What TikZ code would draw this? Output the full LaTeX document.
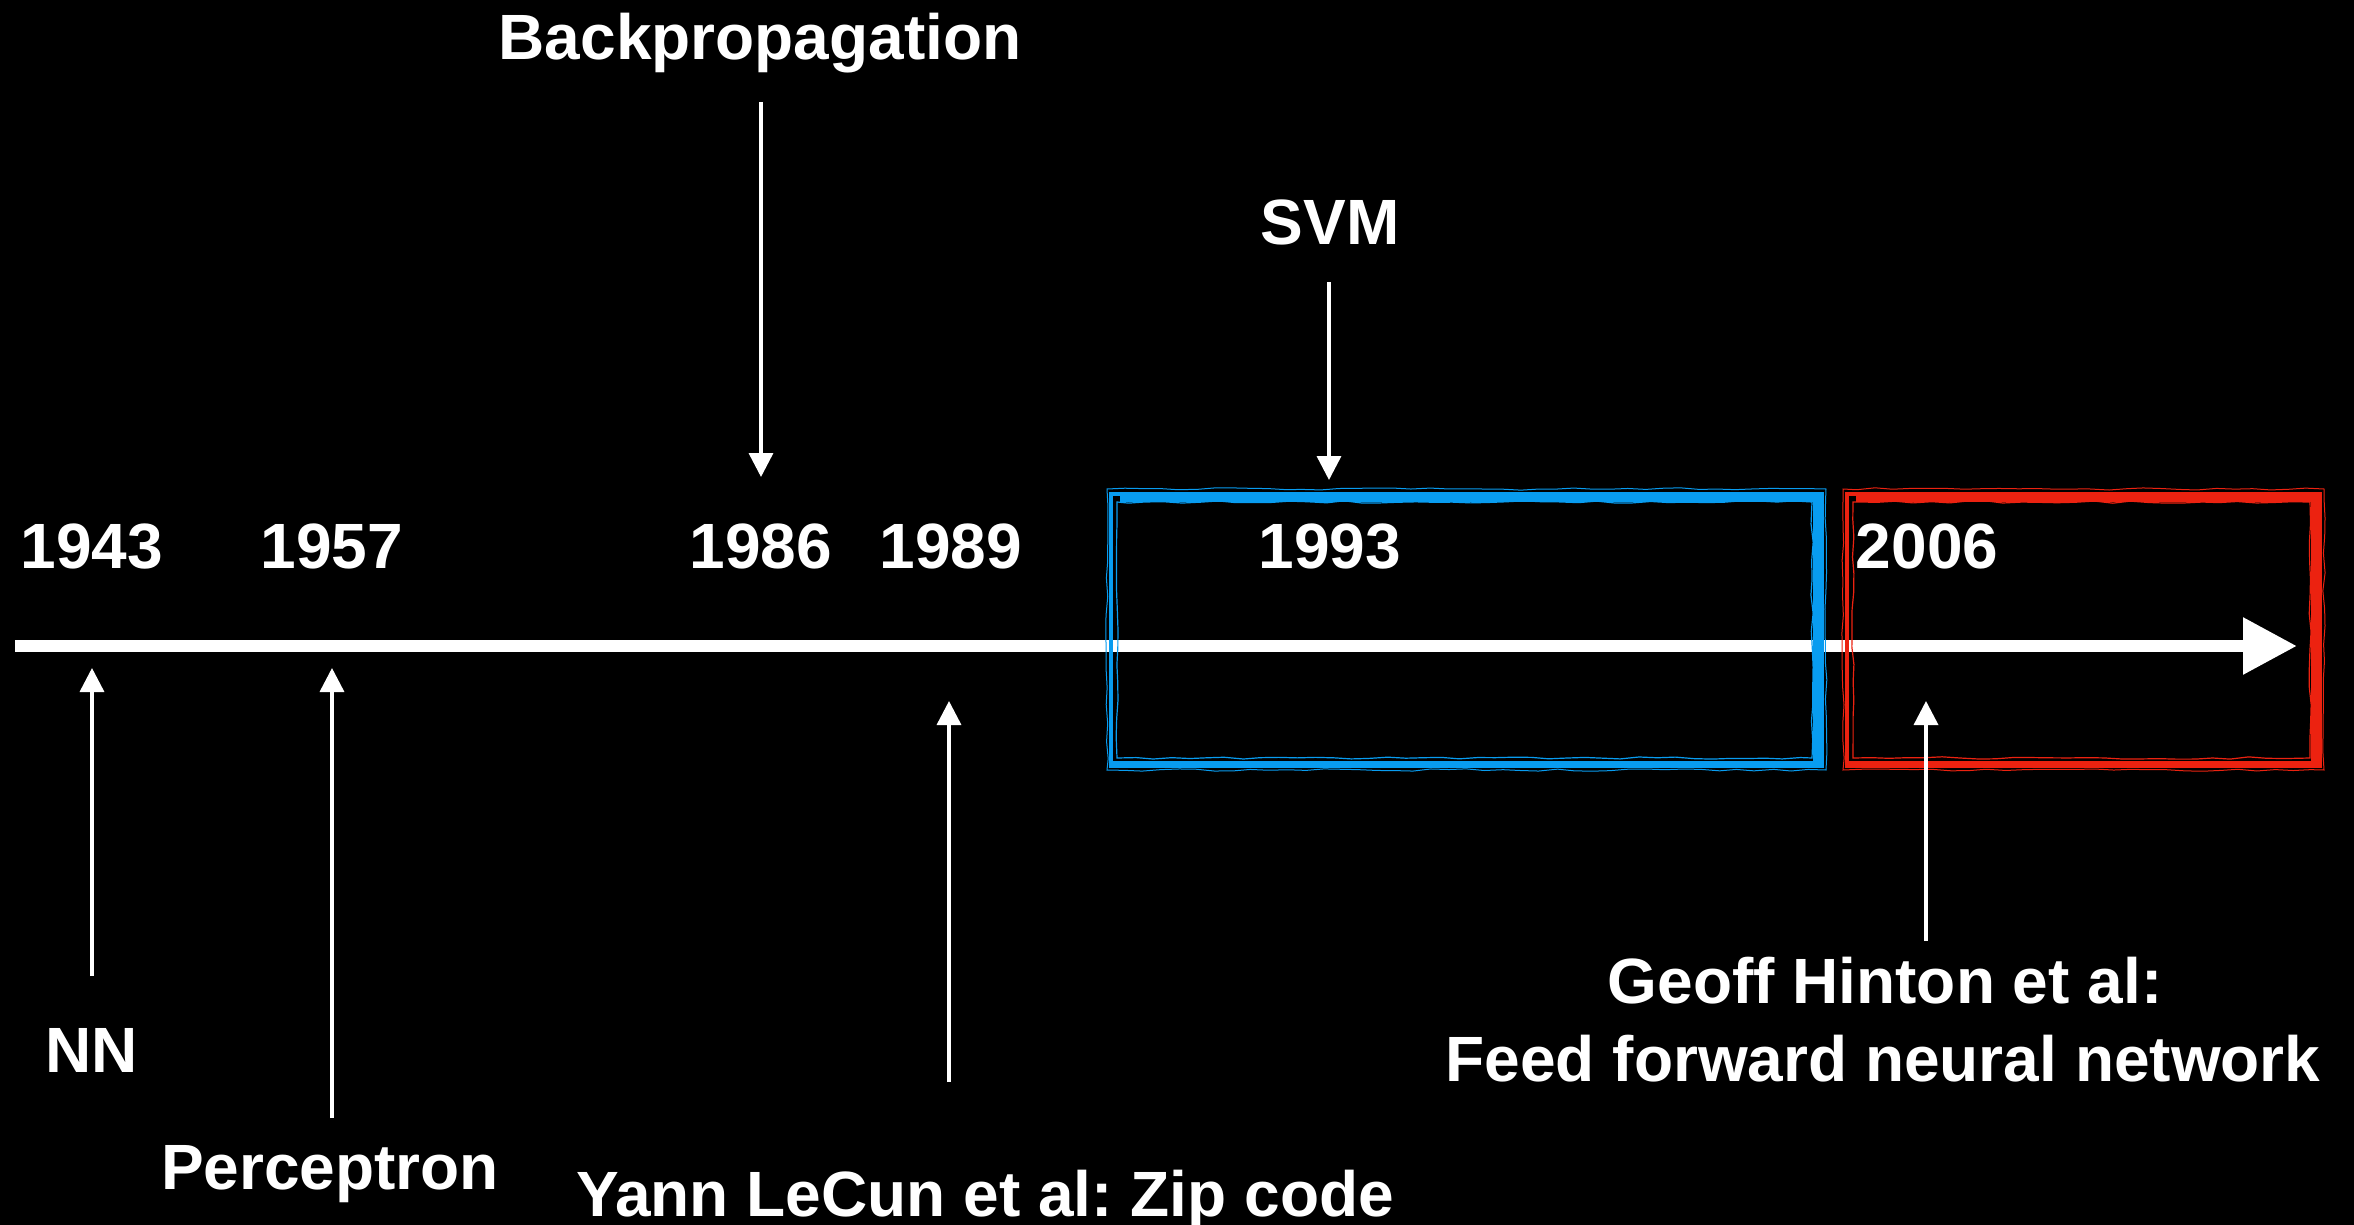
\documentclass[tikz,border=0pt]{standalone}
\usepackage{fontspec}
\setmainfont{Liberation Sans}
\usetikzlibrary{arrows.meta,decorations.pathmorphing}
\frenchspacing

\definecolor{boxblue}{RGB}{8,156,240}
\definecolor{boxred}{RGB}{236,34,16}

\tikzset{
  label/.style={text=white, inner sep=0pt, anchor=base,
    font=\fontsize{64}{77}\selectfont\bfseries},
  timeline/.style={draw=white, line width=12pt,
    -{Triangle[length=54pt,width=54pt]}},
  pointer/.style={draw=white, line width=3.5pt,
    -{Triangle[length=24pt,width=24pt]}},
  brush/.style={line width=#1},
  rough/.style={decorate, decoration={random steps, segment length=18pt, amplitude=1.2pt}},
}

\begin{document}
\begin{tikzpicture}[x=1pt, y=-1pt]
  \pgfmathsetseed{11}
  % canvas
  \fill[black] (0,0) rectangle (2354,1225);
  \useasboundingbox (0,0) rectangle (2354,1225);

  % time axis
  \coordinate (axisL) at (15,646);
  \coordinate (axisR) at (2297,646);
  \draw[timeline] (axisL) -- (axisR);

  % highlighted periods: brush-stroke frames
  \begin{scope}[draw=boxblue]
    \draw[brush=4pt] (1111,494) rectangle (1822,766);
    \draw[brush=9pt] (1120,497) -- (1822,497);
    \draw[brush=10pt] (1818,492) -- (1818,768);
    \draw[brush=6pt] (1113,764) -- (1822,764);
    \draw[brush=1.2pt, rough] (1117,502) rectangle (1812,758);
    \draw[brush=1pt, rough] (1107,489) rectangle (1826,770);
  \end{scope}
  \begin{scope}[draw=boxred]
    \draw[brush=4pt] (1847,494) rectangle (2320,766);
    \draw[brush=9pt] (1856,497) -- (2320,497);
    \draw[brush=10pt] (2316,492) -- (2316,768);
    \draw[brush=6pt] (1849,764) -- (2320,764);
    \draw[brush=1.2pt, rough] (1853,502) rectangle (2310,758);
    \draw[brush=1pt, rough] (1843,489) rectangle (2324,770);
  \end{scope}

  % years
  \node[label] (y1943) at (92,568) {1943};
  \node[label] (y1957) at (332,568) {1957};
  \node[label] (y1986) at (761,568) {1986};
  \node[label] (y1989) at (951,568) {1989};
  \node[label] (y1993) at (1330,568) {1993};
  \node[label] (y2006) at (1927,568) {2006};

  % events
  \node[label] (bp) at (760,60) {Backpropagation};
  \node[label] (svm) at (1330,245) {SVM};
  \node[label] (nn) at (92,1072) {NN};
  \node[label] (perc) at (330,1189) {Perceptron};
  \node[label] (lecun) at (985,1216) {Yann LeCun et al: Zip code};
  \node[label] (hinton1) at (1885,1003) {Geoff Hinton et al:};
  \node[label] (hinton2) at (1883,1081) {Feed forward neural network};

  % pointer end points
  \coordinate (bpS) at (761,102);   \coordinate (bpE) at (761,477);
  \coordinate (svmS) at (1329,282); \coordinate (svmE) at (1329,480);
  \coordinate (nnS) at (92,976);    \coordinate (nnE) at (92,668);
  \coordinate (pcS) at (332,1118);  \coordinate (pcE) at (332,668);
  \coordinate (lcS) at (949,1082);  \coordinate (lcE) at (949,701);
  \coordinate (hnS) at (1926,941);  \coordinate (hnE) at (1926,701);

  \draw[pointer] (bpS) -- (bpE);
  \draw[pointer] (svmS) -- (svmE);
  \draw[pointer] (nnS) -- (nnE);
  \draw[pointer] (pcS) -- (pcE);
  \draw[pointer] (lcS) -- (lcE);
  \draw[pointer] (hnS) -- (hnE);
\end{tikzpicture}
\end{document}
